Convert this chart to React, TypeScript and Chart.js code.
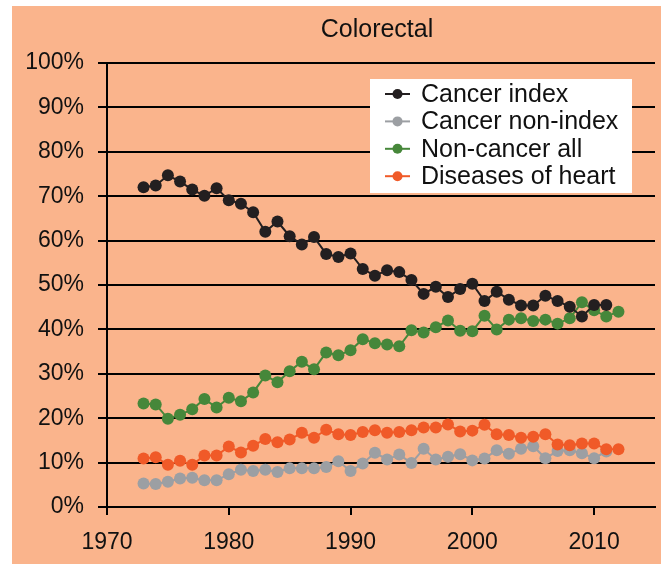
import React, { useEffect, useRef } from "react";
import { Chart, registerables } from "chart.js";

Chart.register(...registerables);

const TITLE = "Colorectal";

const yearsIndex = [
  1973, 1974, 1975, 1976, 1977, 1978, 1979, 1980, 1981, 1982,
  1983, 1984, 1985, 1986, 1987, 1988, 1989, 1990, 1991, 1992,
  1993, 1994, 1995, 1996, 1997, 1998, 1999, 2000, 2001, 2002,
  2003, 2004, 2005, 2006, 2007, 2008, 2009, 2010, 2011,
];
const yearsAll = [
  1973, 1974, 1975, 1976, 1977, 1978, 1979, 1980, 1981, 1982,
  1983, 1984, 1985, 1986, 1987, 1988, 1989, 1990, 1991, 1992,
  1993, 1994, 1995, 1996, 1997, 1998, 1999, 2000, 2001, 2002,
  2003, 2004, 2005, 2006, 2007, 2008, 2009, 2010, 2011, 2012,
];

const cancerIndex = [
  72.0, 72.4, 74.7, 73.3, 71.5, 70.1, 71.8, 69.1, 68.3, 66.4,
  62.0, 64.3, 61.0, 59.1, 60.8, 57.0, 56.3, 57.1, 53.6, 52.1,
  53.3, 52.9, 51.1, 48.0, 49.6, 47.3, 49.1, 50.3, 46.4, 48.5,
  46.7, 45.4, 45.4, 47.6, 46.4, 45.1, 42.9, 45.5, 45.5,
];
const cancerNonIndex = [
  5.3, 5.2, 5.7, 6.4, 6.6, 6.0, 6.0, 7.4, 8.4, 8.1,
  8.4, 7.9, 8.7, 8.7, 8.7, 9.0, 10.3, 8.1, 9.8, 12.2,
  10.7, 11.8, 9.9, 13.1, 10.7, 11.3, 11.9, 10.5, 10.9, 12.8,
  12.0, 13.1, 13.7, 11.0, 12.6, 12.8, 12.1, 11.0, 12.5,
];
const nonCancerAll = [
  23.3, 23.1, 19.9, 20.8, 22.0, 24.3, 22.4, 24.6, 23.8, 25.8,
  29.6, 28.1, 30.6, 32.7, 31.0, 34.8, 34.2, 35.3, 37.8, 36.9,
  36.6, 36.2, 39.8, 39.3, 40.5, 42.0, 39.7, 39.6, 43.1, 40.0,
  42.2, 42.5, 41.9, 42.2, 41.3, 42.5, 46.1, 44.3, 42.9, 44.0,
];
const diseasesOfHeart = [
  10.9, 11.2, 9.5, 10.4, 9.5, 11.6, 11.6, 13.6, 12.3, 13.8,
  15.3, 14.6, 15.2, 16.7, 15.6, 17.4, 16.4, 16.2, 16.9, 17.3,
  16.7, 16.9, 17.3, 17.9, 17.9, 18.6, 17.0, 17.2, 18.5, 16.4,
  16.2, 15.6, 15.8, 16.4, 14.1, 13.9, 14.3, 14.3, 13.0, 13.0,
];

const xTickValues = [1970, 1980, 1990, 2000, 2010];
const seriesLabels = ["Cancer index", "Cancer non-index", "Non-cancer all", "Diseases of heart"];
const seriesColors = ["#231f20", "#9c9fa3", "#46873a", "#f05a28"];

const FONT = "'Liberation Sans', Arial, Helvetica, sans-serif";
const BG = "#fab48c";
const TEXT = "#111111";

function pts(xs: number[], ys: number[]) {
  return ys.map((y, i) => ({ x: xs[i], y }));
}

const backgroundPlugin = {
  id: "peachBg",
  beforeDraw(chart: any) {
    const c = chart.ctx;
    c.save();
    c.fillStyle = "#ffffff";
    c.fillRect(0, 0, chart.width, chart.height);
    c.fillStyle = BG;
    c.fillRect(12, 6, chart.width - 12, chart.height - 6);
    c.restore();
  },
};

const titleLegendPlugin = {
  id: "titleLegend",
  afterDraw(chart: any) {
    const c = chart.ctx;
    const area = chart.chartArea;
    c.save();
    c.fillStyle = TEXT;
    c.font = `25px ${FONT}`;
    c.textAlign = "center";
    c.textBaseline = "middle";
    c.fillText(TITLE, (area.left + area.right) / 2 - 4, 30);

    // legend box
    c.fillStyle = "#ffffff";
    c.fillRect(370, 79, 262, 114);
    c.font = `25px ${FONT}`;
    c.textAlign = "left";
    seriesLabels.forEach((lab, i) => {
      const y = 94 + i * 27.4;
      c.strokeStyle = seriesColors[i];
      c.lineWidth = 2;
      c.beginPath();
      c.moveTo(385, y);
      c.lineTo(410, y);
      c.stroke();
      c.fillStyle = seriesColors[i];
      c.beginPath();
      c.arc(397.5, y, 5, 0, Math.PI * 2);
      c.fill();
      c.fillStyle = TEXT;
      c.fillText(lab, 421, y + 1);
    });
    c.restore();
  },
};

export default function App() {
  const ref = useRef<HTMLCanvasElement>(null);
  useEffect(() => {
    document.body.style.margin = "0";
    const canvas = ref.current!;
    const mk = (i: number, data: any[], order: number) => ({
      label: seriesLabels[i],
      data,
      borderColor: seriesColors[i],
      backgroundColor: seriesColors[i],
      pointBackgroundColor: seriesColors[i],
      pointBorderColor: seriesColors[i],
      pointRadius: 6,
      pointBorderWidth: 0,
      borderWidth: 2,
      tension: 0,
      fill: false,
      order,
    });
    const chart = new Chart(canvas, {
      type: "line",
      data: {
        datasets: [
          mk(0, pts(yearsIndex, cancerIndex), 0),
          mk(1, pts(yearsIndex, cancerNonIndex), 3),
          mk(2, pts(yearsAll, nonCancerAll), 2),
          mk(3, pts(yearsAll, diseasesOfHeart), 1),
        ],
      },
      options: {
        animation: false,
        responsive: false,
        maintainAspectRatio: false,
        layout: { padding: { top: 63, right: 4, left: 0, bottom: 0 } },
        plugins: {
          legend: { display: false },
          tooltip: { enabled: false },
          title: { display: false },
        },
        scales: {
          x: {
            type: "linear",
            min: 1970,
            max: 2015,
            afterBuildTicks: (s: any) => {
              s.ticks = xTickValues.map((v) => ({ value: v }));
            },
            afterFit: (s: any) => {
              s.height = 57;
            },
            grid: {
              drawOnChartArea: false,
              drawTicks: true,
              tickLength: 8,
              color: "#000",
              lineWidth: 2,
            },
            border: { display: true, color: "#000", width: 2 },
            ticks: {
              font: { family: FONT, size: 23 },
              color: TEXT,
              padding: 14,
              maxRotation: 0,
              autoSkip: false,
              callback: (v: any) => String(v),
            },
          },
          y: {
            min: 0,
            max: 100,
            afterFit: (s: any) => {
              s.width = 107;
            },
            grid: {
              color: "#000",
              lineWidth: 2,
              drawTicks: true,
              tickLength: 9,
            },
            border: { display: true, color: "#000", width: 2 },
            ticks: {
              stepSize: 10,
              font: { family: FONT, size: 23 },
              color: TEXT,
              padding: 14,
              callback: (v: any) => v + "%",
            },
          },
        },
      },
      plugins: [backgroundPlugin, titleLegendPlugin],
    });
    return () => chart.destroy();
  }, []);
  return (
    <div style={{ width: 661, height: 564 }}>
      <canvas ref={ref} width={661} height={564} style={{ display: "block" }} />
    </div>
  );
}
